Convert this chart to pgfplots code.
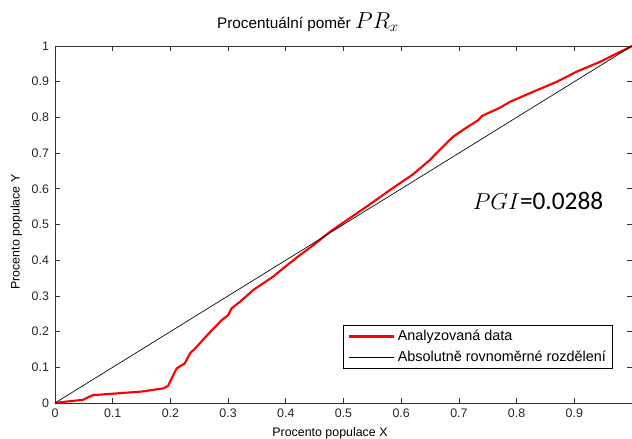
\documentclass[border=0pt]{standalone}
\usepackage{pgfplots}
\pgfplotsset{compat=1.18}
\usepackage{fontspec}
\setmainfont{Liberation Sans}
\newfontfamily\carlito{Carlito}
\begin{document}
\begin{tikzpicture}
\useasboundingbox (-41.25pt,-27pt) rectangle (432.75pt,302.25pt);
\begin{axis}[
  at={(0,0)}, anchor=south west,
  scale only axis,
  width=432.75pt, height=267.75pt,
  xmin=0, xmax=1, ymin=0, ymax=1,
  xtick={0,0.1,...,0.9},
  xticklabels={0,0.1,0.2,0.3,0.4,0.5,0.6,0.7,0.8,0.9},
  ytick={0,0.1,...,1},
  yticklabels={0,0.1,0.2,0.3,0.4,0.5,0.6,0.7,0.8,0.9,1},
  tick align=inside,
  major tick length=4pt,
  tick style={black!80, line width=0.5pt},
  axis line style={black!80, line width=0.6pt},
  /pgf/number format/assume math mode=true,
  ticklabel style={font=\fontsize{9.3}{11}\selectfont, text=black!85},
  xticklabel style={yshift=-1pt},
  yticklabel style={xshift=-1pt},
  legend style={at={(0.967,0.095)}, anchor=south east,
    font=\fontsize{10.8}{12.5}\selectfont, draw=black, line width=0.5pt,
    inner xsep=3pt, inner ysep=2pt, row sep=2pt, cells={anchor=west}},
  legend image code/.code={\draw[#1] (0pt,0pt) -- (34pt,0pt);},
  legend cell align=left,
]
\addplot[red, line width=1.6pt] coordinates {
(0,0) (0.02,0.004) (0.049,0.009) (0.06,0.018) (0.066,0.022) (0.10,0.026)
(0.15,0.032) (0.188,0.041) (0.196,0.048) (0.204,0.075) (0.211,0.097)
(0.225,0.111) (0.234,0.139) (0.243,0.153) (0.251,0.167) (0.257,0.178)
(0.272,0.204) (0.289,0.232) (0.300,0.246) (0.306,0.265) (0.321,0.284)
(0.344,0.317) (0.378,0.354) (0.396,0.378) (0.425,0.415) (0.45,0.445)
(0.477,0.48) (0.494,0.499) (0.54,0.55) (0.581,0.597) (0.62,0.64)
(0.65,0.681) (0.661,0.70) (0.69,0.746) (0.71,0.768) (0.734,0.793)
(0.74,0.804) (0.771,0.827) (0.789,0.844) (0.829,0.872) (0.87,0.90)
(0.904,0.928) (0.945,0.956) (1,1)
};
\addlegendentry{Analyzovaná data}
\addplot[black, line width=0.5pt] coordinates {(0,0) (1,1)};
\addlegendentry{Absolutně rovnoměrné rozdělení}
\end{axis}
\node[anchor=base, font=\fontsize{11.5}{13}\selectfont] at (189.75pt,281.05pt)
  {Procentuální poměr \fontsize{16}{18}\selectfont$PR_x$};
\node[anchor=base] at (362.25pt,145.3pt)
  {\fontsize{17}{20}\selectfont$PGI$\carlito\fontsize{19}{21}\selectfont=0.0288};
\node[anchor=base, font=\fontsize{9.3}{11}\selectfont] at (206.25pt,-25.3pt)
  {Procento populace X};
\node[anchor=base, rotate=90, font=\fontsize{9.3}{11}\selectfont] at (-26.6pt,128.25pt)
  {Procento populace Y};
\end{tikzpicture}
\end{document}
